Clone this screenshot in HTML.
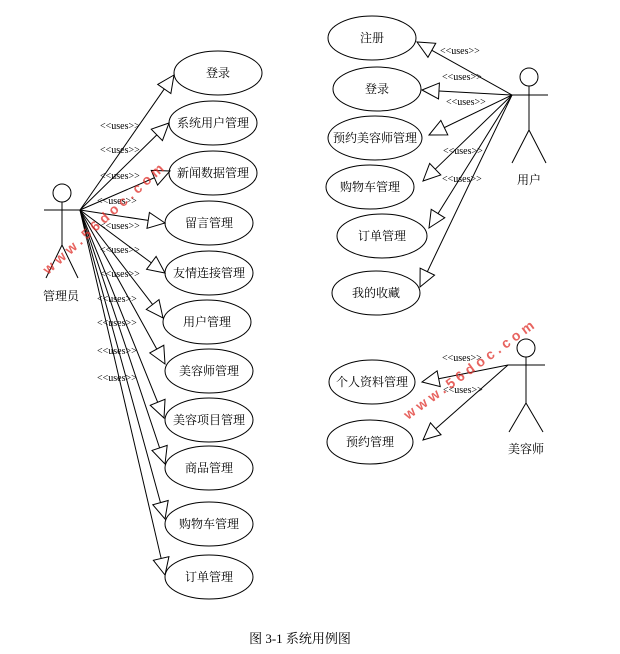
<!DOCTYPE html>
<html><head><meta charset="utf-8"><style>
html,body{margin:0;padding:0;background:#fff;}
svg{display:block;}
text{font-family:"Liberation Serif","Noto Serif CJK SC","Noto Sans CJK SC",serif;fill:#000;}
.u{font-size:10px;}
.c{font-size:12px;text-anchor:middle;}
.w{font-size:14px;fill:#e0302a;opacity:0.75;font-weight:bold;letter-spacing:4px;font-family:"Liberation Sans",sans-serif;}
</style></head><body>
<svg id="s" width="620" height="654" viewBox="0 0 620 654" xmlns="http://www.w3.org/2000/svg">
<g fill="none" stroke="#000" stroke-width="1">
<circle cx="62" cy="193" r="9"/>
<line x1="62" y1="202" x2="62" y2="245"/>
<line x1="44" y1="210" x2="80" y2="210"/>
<line x1="62" y1="245" x2="46" y2="278"/>
<line x1="62" y1="245" x2="78" y2="278"/>
<circle cx="529" cy="77" r="9"/>
<line x1="529" y1="86" x2="529" y2="130"/>
<line x1="510" y1="95" x2="548" y2="95"/>
<line x1="529" y1="130" x2="512" y2="163"/>
<line x1="529" y1="130" x2="546" y2="163"/>
<circle cx="526" cy="348" r="9"/>
<line x1="526" y1="357" x2="526" y2="403"/>
<line x1="508" y1="365" x2="545" y2="365"/>
<line x1="526" y1="403" x2="509" y2="432"/>
<line x1="526" y1="403" x2="543" y2="432"/>
</g>
<g id="ells" fill="#fff" stroke="#000" stroke-width="1"></g>
<g id="lines" fill="#fff" stroke="#000" stroke-width="1"></g>
<g>
<text class="c" x="61" y="300">管理员</text>
<text class="c" x="529" y="184">用户</text>
<text class="c" x="526" y="453">美容师</text>
<text class="c" x="218" y="77">登录</text>
<text class="c" x="213" y="127">系统用户管理</text>
<text class="c" x="213" y="177">新闻数据管理</text>
<text class="c" x="209" y="227">留言管理</text>
<text class="c" x="209" y="277">友情连接管理</text>
<text class="c" x="207" y="326">用户管理</text>
<text class="c" x="209" y="375">美容师管理</text>
<text class="c" x="209" y="424">美容项目管理</text>
<text class="c" x="209" y="472">商品管理</text>
<text class="c" x="209" y="528">购物车管理</text>
<text class="c" x="209" y="581">订单管理</text>
<text class="c" x="372" y="42">注册</text>
<text class="c" x="377" y="93">登录</text>
<text class="c" x="375" y="142">预约美容师管理</text>
<text class="c" x="370" y="191">购物车管理</text>
<text class="c" x="382" y="240">订单管理</text>
<text class="c" x="376" y="297">我的收藏</text>
<text class="c" x="372" y="386">个人资料管理</text>
<text class="c" x="370" y="446">预约管理</text>
<text class="u" x="100" y="129">&lt;&lt;uses&gt;&gt;</text>
<text class="u" x="100" y="153">&lt;&lt;uses&gt;&gt;</text>
<text class="u" x="100" y="179">&lt;&lt;uses&gt;&gt;</text>
<text class="u" x="97" y="204">&lt;&lt;uses&gt;&gt;</text>
<text class="u" x="100" y="229">&lt;&lt;uses&gt;&gt;</text>
<text class="u" x="100" y="253">&lt;&lt;uses&gt;&gt;</text>
<text class="u" x="100" y="277">&lt;&lt;uses&gt;&gt;</text>
<text class="u" x="97" y="302">&lt;&lt;uses&gt;&gt;</text>
<text class="u" x="97" y="326">&lt;&lt;uses&gt;&gt;</text>
<text class="u" x="97" y="354">&lt;&lt;uses&gt;&gt;</text>
<text class="u" x="97" y="381">&lt;&lt;uses&gt;&gt;</text>
<text class="u" x="440" y="54">&lt;&lt;uses&gt;&gt;</text>
<text class="u" x="442" y="80">&lt;&lt;uses&gt;&gt;</text>
<text class="u" x="446" y="105">&lt;&lt;uses&gt;&gt;</text>
<text class="u" x="443" y="154">&lt;&lt;uses&gt;&gt;</text>
<text class="u" x="442" y="182">&lt;&lt;uses&gt;&gt;</text>
<text class="u" x="442" y="361">&lt;&lt;uses&gt;&gt;</text>
<text class="u" x="443" y="393">&lt;&lt;uses&gt;&gt;</text>
<text class="w" transform="translate(48,275) rotate(-42)">www.56doc.com</text>
<text class="w" transform="translate(408,420) rotate(-36)">www.56doc.com</text>
<text x="300" y="643" style="font-size:13px;text-anchor:middle">图 3-1 系统用例图</text>
</g>
</svg>
<script>
var NS="http://www.w3.org/2000/svg";
var L=document.getElementById("lines"),E=document.getElementById("ells");
function el(p,t,a){var e=document.createElementNS(NS,t);for(var k in a)e.setAttribute(k,a[k]);p.appendChild(e);}
function uc(ax,ay,cx,cy,rx,ry,tx,ty){
 el(E,"ellipse",{cx:cx,cy:cy,rx:rx,ry:ry});
 var vx=ax-tx,vy=ay-ty,d=Math.sqrt(vx*vx+vy*vy);vx/=d;vy/=d;
 var bx=tx+vx*17,by=ty+vy*17,px=-vy*8,py=vx*8;
 el(L,"line",{x1:ax,y1:ay,x2:bx,y2:by});
 el(L,"polygon",{points:tx+","+ty+" "+(bx+px)+","+(by+py)+" "+(bx-px)+","+(by-py)});
}
var A=[[218,73,44,174,75],[213,123,44,169,123],[213,173,44,170,171],[209,223,44,165,223],[209,273,44,165,273],[207,322,44,163,318],[209,371,44,165,364],[209,420,44,164,418],[209,468,44,165,464],[209,524,44,165,519],[209,577,44,165,575]];
A.forEach(function(a){uc(80,210,a[0],a[1],a[2],22,a[3],a[4]);});
var U=[[372,38,44,417,42],[377,89,44,422,90],[375,138,47,429,135],[370,187,44,423,181],[382,236,45,429,228],[376,293,44,420,287]];
U.forEach(function(a){uc(512,95,a[0],a[1],a[2],22,a[3],a[4]);});
uc(508,365,372,382,43,22,422,382);uc(508,365,370,442,43,22,423,440);
</script>
</body></html>
